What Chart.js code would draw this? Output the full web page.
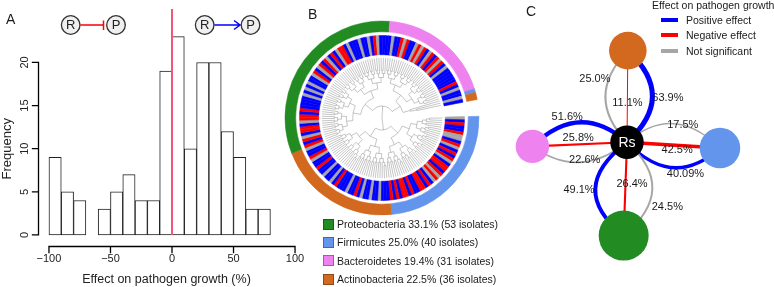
<!DOCTYPE html>
<html>
<head>
<meta charset="utf-8">
<script src="https://cdn.jsdelivr.net/npm/chart.js@4.4.1/dist/chart.umd.min.js"></script>
<style>
    html, body { margin: 0; padding: 0; background: #fff; }
    body {
        width: 774px; height: 287px; position: relative; overflow: hidden;
        font-family: "Liberation Sans", Arial, Helvetica, sans-serif; color: #1a1a1a;
    }
    canvas { position: absolute; }
    #cA { left: 0; top: 0; }
    #cB { left: 282px; top: 18px; }
    #cC { left: 480px; top: 0; }
    .tag { position: absolute; font-size: 14px; line-height: 14px; }
    #legB { position: absolute; left: 323px; top: 215px; font-size: 10.5px; }
    #legB .row { height: 18.3px; display: flex; align-items: center; white-space: nowrap; }
    #legB .sw { width: 11px; height: 11px; margin-right: 3px; box-sizing: border-box; border: 1px solid rgba(0,0,0,0.3); }
    #legC { position: absolute; left: 652px; top: -1px; font-size: 10.5px; white-space: nowrap; }
    #legC .title { height: 12px; line-height: 12px; margin-bottom: 1px; }
    #legC .row { height: 15.5px; display: flex; align-items: center; }
    #legC .ln { width: 17px; height: 4px; margin-left: 9px; margin-right: 8px; }
</style>
</head>
<body>
<canvas id="cA" width="310" height="287"></canvas>
<canvas id="cB" width="200" height="200"></canvas>
<canvas id="cC" width="294" height="287"></canvas>
<div class="tag" style="left:6px;top:12px">A</div>
<div class="tag" style="left:308px;top:7px">B</div>
<div class="tag" style="left:526px;top:4px">C</div>
<div id="legB"></div>
<div id="legC"></div>
<script>
// ---- Panel A: histogram ----
const binStarts = [-100, -90, -80, -70, -60, -50, -40, -30, -20, -10, 0, 10, 20, 30, 40, 50, 60, 70];
const binCounts = [9, 5, 4, 0, 3, 5, 7, 4, 4, 19, 23, 10, 20, 20, 12, 9, 3, 3];
const binWidth = 10;
const xTicks = [-100, -50, 0, 50, 100];
const yTicks = [0, 5, 10, 15, 20];

// ---- Panel B: phylum ring + isolate effects ----
const phylumNames = ['Proteobacteria', 'Firmicutes', 'Bacteroidetes', 'Actinobacteria'];
const phylumPct = ['33.1', '25.0', '19.4', '22.5'];
const phylumIsolates = [53, 40, 31, 36];
const ringPhyla = ['Firmicutes', 'Actinobacteria', 'Proteobacteria', 'Bacteroidetes', 'Firmicutes', 'Actinobacteria'];
const ringCounts = [39, 34, 53, 31, 1, 2];
// P = positive, N = negative, S = not significant (clockwise order)
const ringEffects = [
    'SPNPPNSSPNSPNPNSPNNPNSNSPNPNNPPNPNNPNPN',
    'PPPSPPSPPSPNPPSPPPNPSPPSPPNPPSNPPS',
    'NPNSPNNPSNNPNPPPPSPSPSPPSNPSNPNSPNPSNNPSPPPSPPSPNSPPP',
    'PSPPNSNPPSNSNPSNPNSNPSPPPPPNPSP',
    'P',
    'SP'
];

// ---- Panel C: network ----
const nodeNames = ['Rs', 'Actinobacteria', 'Bacteroidetes', 'Firmicutes', 'Proteobacteria'];
const nodeX = [0, 0.1, -11.4, 11.2, -0.4];
const nodeY = [0, 11.1, -0.5, -0.7, -11.3];
const edgePhyla = ['Actinobacteria', 'Bacteroidetes', 'Firmicutes', 'Proteobacteria'];
const pctPositive = ['63.9', '51.6', '40.09', '49.1'];
const pctNegative = ['11.1', '25.8', '42.5', '26.4'];
const pctNotSig = ['25.0', '22.6', '17.5', '24.5'];
const effectLabels = ['Positive effect', 'Negative effect', 'Not significant'];

const phylumColor = {
    Proteobacteria: '#228B22', Firmicutes: '#6495ED',
    Bacteroidetes: '#EE82EE', Actinobacteria: '#D2691E', Rs: '#000000'
};
const effectColor = { P: '#0000FF', N: '#FF0000', S: '#A6A6A6' };
const FONT = '"Liberation Sans", Arial, Helvetica, sans-serif';

// Achsen, Nulllinie und Symbole fuer Panel A
const axesA = {
    id: 'axesA',
    afterDraw(chart) {
        const { ctx, chartArea, scales: { x, y } } = chart;
        ctx.save();
        const x0 = x.getPixelForValue(0);
        ctx.fillStyle = '#F0577A';
        ctx.fillRect(x0 - 1, chartArea.top, 2, y.getPixelForValue(0) - chartArea.top);

        // Achsenlinien
        ctx.strokeStyle = '#000000';
        ctx.lineWidth = 1.3;
        ctx.lineCap = 'square';
        const by = chartArea.bottom + 0.5;
        const lx = chartArea.left - 0.5;
        ctx.beginPath();
        ctx.moveTo(x.getPixelForValue(xTicks[0]), by);
        ctx.lineTo(x.getPixelForValue(xTicks[xTicks.length - 1]), by);
        xTicks.forEach(v => {
            const px = x.getPixelForValue(v);
            ctx.moveTo(px, by);
            ctx.lineTo(px, by + 6);
        });
        ctx.moveTo(lx, y.getPixelForValue(yTicks[0]));
        ctx.lineTo(lx, y.getPixelForValue(yTicks[yTicks.length - 1]));
        yTicks.forEach(v => {
            const py = y.getPixelForValue(v);
            ctx.moveTo(lx, py);
            ctx.lineTo(lx - 6, py);
        });
        ctx.stroke();

        ctx.fillStyle = '#222';
        ctx.textAlign = 'center';
        ctx.textBaseline = 'middle';
        ctx.font = '11px ' + FONT;
        yTicks.forEach(v => {
            ctx.save();
            ctx.translate(lx - 14, y.getPixelForValue(v));
            ctx.rotate(-Math.PI / 2);
            ctx.fillText(String(v), 0, 0);
            ctx.restore();
        });
        ctx.font = '13px ' + FONT;
        ctx.save();
        ctx.translate(7, (y.getPixelForValue(0) + y.getPixelForValue(20)) / 2);
        ctx.rotate(-Math.PI / 2);
        ctx.fillText('Frequency', 0, 0);
        ctx.restore();
        ctx.font = '12.5px ' + FONT;
        ctx.fillText('Effect on pathogen growth (%)', 166.5, 279.5);

        // R --| P  und  R --> P
        const circ = (cx, txt) => {
            ctx.beginPath();
            ctx.arc(cx, 25, 9.3, 0, Math.PI * 2);
            ctx.fillStyle = '#f0f0f0';
            ctx.fill();
            ctx.strokeStyle = '#333';
            ctx.lineWidth = 1.3;
            ctx.stroke();
            ctx.fillStyle = '#222';
            ctx.font = '13px ' + FONT;
            ctx.fillText(txt, cx, 25.5);
        };
        circ(70.7, 'R');
        circ(116, 'P');
        circ(204.7, 'R');
        circ(250.5, 'P');
        ctx.strokeStyle = '#FF0000';
        ctx.lineWidth = 1.5;
        ctx.lineCap = 'butt';
        ctx.beginPath();
        ctx.moveTo(80.5, 25); ctx.lineTo(103.5, 25);
        ctx.moveTo(103.5, 20.5); ctx.lineTo(103.5, 30);
        ctx.stroke();
        ctx.strokeStyle = '#0000FF';
        ctx.beginPath();
        ctx.moveTo(214.5, 25); ctx.lineTo(240, 25);
        ctx.moveTo(234, 20.5); ctx.lineTo(240, 25); ctx.lineTo(234, 29.5);
        ctx.stroke();
        ctx.restore();
    }
};

new Chart(document.getElementById('cA'), {
    type: 'bar',
    data: {
        datasets: [{
            data: binStarts.map((s, i) => ({ x: s + binWidth / 2, y: binCounts[i] })),
            backgroundColor: '#ffffff',
            borderColor: '#222222',
            borderWidth: 1,
            borderSkipped: false,
            barPercentage: 1,
            categoryPercentage: 1
        }]
    },
    options: {
        responsive: false,
        animation: false,
        events: [],
        layout: { padding: { left: 39, right: 5, top: 9, bottom: 0 } },
        plugins: { legend: { display: false }, tooltip: { enabled: false } },
        scales: {
            x: {
                type: 'linear',
                offset: false,
                min: -108.1,
                max: 108.1,
                afterBuildTicks: s => { s.ticks = xTicks.map(v => ({ value: v })); },
                afterFit: s => { s.height = 41; },
                ticks: {
                    autoSkip: false, maxRotation: 0, padding: 0, color: '#222',
                    font: { size: 11, family: FONT },
                    callback: v => String(v).replace('-', '\u2212')
                },
                grid: { display: false, drawTicks: true, tickLength: 6 },
                border: { display: false },
                title: { display: false }
            },
            y: { display: false, min: -1.28, max: 26.2 }
        }
    },
    plugins: [axesA]
});

// ---- Panel B ----
const isolates = ringEffects.join('').split('');

// Radialer Baum innerhalb des Rings
const treePlugin = {
    id: 'tree',
    afterDatasetsDraw(chart) {
        const arcs = chart.getDatasetMeta(2).data;
        if (!arcs.length) return;
        const ctx = chart.ctx;
        const cx = arcs[0].x, cy = arcs[0].y;
        const rTip = arcs[0].innerRadius - 3;
        const ang = arcs.map(a => (a.startAngle + a.endAngle) / 2);
        const cuts = [];
        let acc = 0;
        ringCounts.forEach(c => { acc += c; cuts.push(acc); });
        cuts.pop();
        const rAt = d => rTip * (1 - Math.pow(0.8, d));
        const pt = (r, a) => [cx + r * Math.cos(a), cy + r * Math.sin(a)];
        ctx.save();
        ctx.strokeStyle = '#8c8c8c';
        ctx.lineWidth = 0.5;
        const build = (lo, hi, d) => {
            if (hi - lo === 1) return { a: ang[lo], r: rTip };
            const mid = (lo + hi) / 2;
            let split = Math.round(mid);
            const inside = cuts.filter(c => c > lo && c < hi);
            if (inside.length) split = inside.reduce((b, c) => Math.abs(c - mid) < Math.abs(b - mid) ? c : b);
            const r = rAt(d);
            const kids = [build(lo, split, d + 1), build(split, hi, d + 1)];
            ctx.beginPath();
            kids.forEach(k => {
                const p0 = pt(r, k.a), p1 = pt(k.r, k.a);
                ctx.moveTo(p0[0], p0[1]);
                ctx.lineTo(p1[0], p1[1]);
            });
            if (r > 0) {
                const s = pt(r, kids[0].a);
                ctx.moveTo(s[0], s[1]);
                ctx.arc(cx, cy, r, kids[0].a, kids[1].a);
            }
            ctx.stroke();
            return { a: (kids[0].a + kids[1].a) / 2, r };
        };
        build(0, arcs.length, 0);
        ctx.restore();
    }
};

new Chart(document.getElementById('cB'), {
    type: 'doughnut',
    data: {
        datasets: [
            {
                data: ringCounts,
                backgroundColor: ringPhyla.map(p => phylumColor[p]),
                borderColor: ringPhyla.map(p => phylumColor[p]),
                borderWidth: 0.5,
                weight: 10
            },
            { data: [1], backgroundColor: 'rgba(0,0,0,0)', borderWidth: 0, weight: 3.5 },
            {
                data: isolates.map(() => 1),
                backgroundColor: isolates.map(e => effectColor[e]),
                borderColor: isolates.map(e => effectColor[e]),
                borderWidth: 0.5,
                weight: 18
            }
        ]
    },
    options: {
        responsive: false,
        animation: false,
        events: [],
        rotation: 89,
        circumference: 350,
        radius: 97,
        cutout: 65,
        layout: { padding: 0 },
        plugins: { legend: { display: false }, tooltip: { enabled: false } }
    },
    plugins: [treePlugin]
});

document.getElementById('legB').innerHTML = phylumNames.map((n, i) =>
    `<div class="row"><span class="sw" style="background:${phylumColor[n]}"></span>` +
    `${n} ${phylumPct[i]}% (${phylumIsolates[i]} isolates)</div>`
).join('');

// ---- Panel C ----
const edgeBulge = [
    [[50, 0], [0, 0], [-44, 0]],
    [[0, -44], [0, 0], [0, 36]],
    [[0, 45], [0, 0], [0, -43]],
    [[-60, 0], [0, 0], [54, 0]]
];
const labelShift = [
    [[15.5, 1.8], [0, 7], [-10.5, -17.5]],
    [[-12.5, -5.2], [-1.5, -6.2], [5, -2.5]],
    [[12, 6.2], [3.7, 4.5], [9.3, 1.5]],
    [[-16.3, 1.5], [6.7, -5.2], [15, 18.2]]
];

const netPlugin = {
    id: 'net',
    geom(chart) {
        const { x, y } = chart.scales;
        const px = nodeNames.map((n, i) => [x.getPixelForValue(nodeX[i]), y.getPixelForValue(nodeY[i])]);
        const out = [];
        edgePhyla.forEach((p, k) => {
            const a = px[nodeNames.indexOf(p)], b = px[0];
            const mid = [(a[0] + b[0]) / 2, (a[1] + b[1]) / 2];
            [pctPositive[k], pctNegative[k], pctNotSig[k]].forEach((v, t) => {
                const bg = edgeBulge[k][t];
                out.push({
                    a, b, v,
                    color: effectColor['PNS'[t]],
                    ctrl: [mid[0] + bg[0], mid[1] + bg[1]],
                    lab: [mid[0] + bg[0] / 2 + labelShift[k][t][0], mid[1] + bg[1] / 2 + labelShift[k][t][1]]
                });
            });
        });
        return { px, out };
    },
    beforeDatasetsDraw(chart) {
        const ctx = chart.ctx;
        const { out } = this.geom(chart);
        ctx.save();
        ctx.lineCap = 'butt';
        out.forEach(e => {
            ctx.strokeStyle = e.color;
            ctx.lineWidth = Math.max(1, parseFloat(e.v) / 12.5);
            ctx.beginPath();
            ctx.moveTo(e.a[0], e.a[1]);
            ctx.quadraticCurveTo(e.ctrl[0], e.ctrl[1], e.b[0], e.b[1]);
            ctx.stroke();
        });
        ctx.restore();
    },
    afterDatasetsDraw(chart) {
        const ctx = chart.ctx;
        const { px, out } = this.geom(chart);
        ctx.save();
        ctx.textAlign = 'center';
        ctx.textBaseline = 'middle';
        ctx.fillStyle = '#1a1a1a';
        ctx.font = '11px ' + FONT;
        out.forEach(e => ctx.fillText(e.v + '%', e.lab[0], e.lab[1]));
        ctx.fillStyle = '#ffffff';
        ctx.font = '14px ' + FONT;
        ctx.fillText('Rs', px[0][0], px[0][1] + 0.5);
        ctx.restore();
    }
};

new Chart(document.getElementById('cC'), {
    type: 'scatter',
    data: {
        datasets: [{
            data: nodeNames.map((n, i) => ({ x: nodeX[i], y: nodeY[i] })),
            pointRadius: [16.7, 18.8, 16.7, 20.3, 25],
            pointHoverRadius: [16.7, 18.8, 16.7, 20.3, 25],
            backgroundColor: nodeNames.map(n => phylumColor[n]),
            borderWidth: 0,
            clip: false
        }]
    },
    options: {
        responsive: false,
        animation: false,
        events: [],
        layout: { padding: 0 },
        plugins: { legend: { display: false }, tooltip: { enabled: false } },
        scales: {
            x: { display: false, min: -14.7, max: 14.7 },
            y: { display: false, min: -14.5, max: 14.2 }
        }
    },
    plugins: [netPlugin]
});

document.getElementById('legC').innerHTML =
    '<div class="title">Effect on pathogen growth</div>' +
    effectLabels.map((l, i) =>
        `<div class="row"><span class="ln" style="background:${effectColor['PNS'[i]]}"></span>${l}</div>`
    ).join('');
</script>
</body>
</html>
